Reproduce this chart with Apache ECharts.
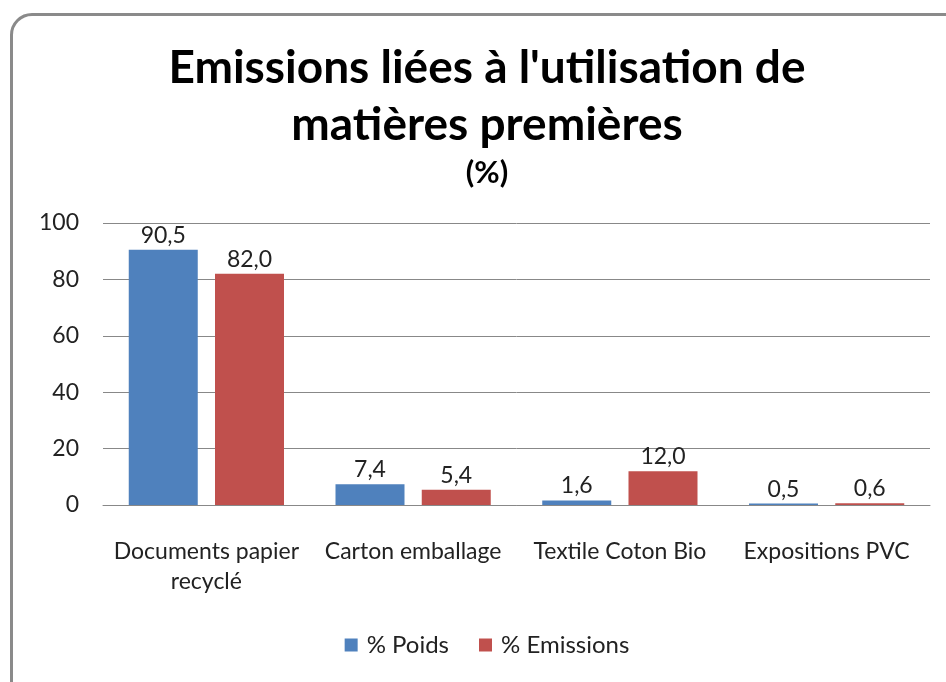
<!DOCTYPE html>
<html>
<head>
<meta charset="utf-8">
<script src="https://cdn.jsdelivr.net/npm/echarts@6/dist/echarts.min.js"></script>
<style>
  html, body { margin: 0; padding: 0; background: #fff; overflow: hidden; width: 946px; height: 682px; }
  .frame {
    position: absolute; left: 10px; top: 13px; width: 960px; height: 700px;
    border: 3px solid #8a8a8a; border-radius: 22px; box-sizing: border-box;
  }
  /* the original chart area runs a bit past the right edge, so it is wider than the window */
  #chart { position: absolute; left: 0; top: 0; width: 974px; height: 682px; }
</style>
</head>
<body>
<div class="frame"></div>
<div id="chart"></div>
<script>
// categories and values
const categories = ['Documents papier\nrecyclé', 'Carton emballage', 'Textile Coton Bio', 'Expositions PVC']
const poids = [90.5, 7.4, 1.6, 0.5]
const emissions = [82.0, 5.4, 12.0, 0.6]
const seriesNames = ['% Poids', '% Emissions']

const fontFamily = 'Lato, "Open Sans", sans-serif'
const chart = echarts.init(document.getElementById('chart'))

const labelCfg = {
  show: true,
  position: 'top',
  distance: 3,
  color: '#222',
  fontSize: 23,
  fontFamily: fontFamily,
  formatter: p => p.value.toFixed(1).replace('.', ','),
}

chart.setOption({
  animation: false,
  title: {
    text: "Emissions liées à l'utilisation de\nmatières premières",
    subtext: '(%)',
    left: 'center',
    top: 35,
    itemGap: 3,
    textStyle: { fontSize: 46, fontWeight: 'bold', color: '#000', lineHeight: 57, fontFamily: fontFamily },
    subtextStyle: { fontSize: 31, fontWeight: 'bold', color: '#000', fontFamily: fontFamily },
  },
  legend: {
    data: seriesNames,
    bottom: 20,
    left: 'center',
    icon: 'rect',
    itemWidth: 13,
    itemHeight: 13,
    itemGap: 30,
    textStyle: { fontSize: 24, color: '#222', fontFamily: fontFamily, padding: [0, 0, 0, 4] },
  },
  grid: { left: 103, right: 44, top: 223, bottom: 177 },
  xAxis: {
    type: 'category',
    data: categories,
    axisTick: { show: false },
    axisLine: { lineStyle: { color: '#888' } },
    axisLabel: { fontSize: 23, color: '#222', margin: 32, lineHeight: 30, interval: 0, fontFamily: fontFamily },
  },
  yAxis: {
    type: 'value',
    min: 0,
    max: 100,
    interval: 20,
    axisLine: { show: false },
    axisTick: { show: false },
    splitLine: { lineStyle: { color: '#888' } },
    axisLabel: { fontSize: 23, color: '#222', margin: 24, fontFamily: fontFamily },
  },
  series: [
    {
      name: seriesNames[0],
      type: 'bar',
      data: poids,
      barWidth: 69,
      barGap: '25%',
      itemStyle: { color: '#4f81bd' },
      label: labelCfg,
    },
    {
      name: seriesNames[1],
      type: 'bar',
      data: emissions,
      barWidth: 69,
      itemStyle: { color: '#c0504d' },
      label: labelCfg,
    },
  ],
})
</script>
</body>
</html>
